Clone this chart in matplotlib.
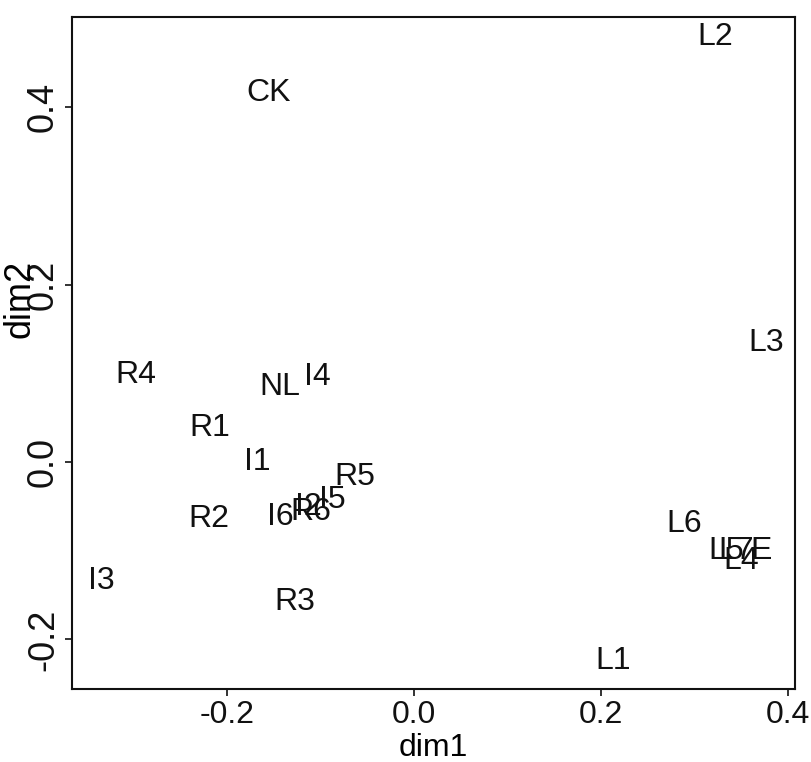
import matplotlib
matplotlib.use("Agg")
import matplotlib.pyplot as plt

# category labels and their coordinates
labels = ["CK", "L2", "R4", "NL", "I4", "L3", "R1", "I1", "R5", "I6",
          "I2", "R6", "I5", "R2", "L6", "L5", "L7", "L4", "E", "I3", "R3", "L1"]
dim1 = [-0.156, 0.322, -0.298, -0.144, -0.104, 0.377, -0.219, -0.168, -0.063, -0.143,
        -0.113, -0.110, -0.087, -0.220, 0.289, 0.334, 0.345, 0.350, 0.371, -0.335, -0.128, 0.213]
dim2 = [0.416, 0.479, 0.098, 0.085, 0.096, 0.134, 0.038, 0.000, -0.017, -0.062,
        -0.051, -0.056, -0.043, -0.064, -0.070, -0.100, -0.100, -0.112, -0.100, -0.134, -0.158, -0.224]

xticks = [-0.2, 0.0, 0.2, 0.4]
yticks = [-0.2, 0.0, 0.2, 0.4]

font = ["Liberation Sans", "DejaVu Sans"]
fs_h = 23   # horizontal text (scan is squeezed sideways)
fs_v = 26   # rotated text

fig = plt.figure(figsize=(8.11, 7.62), dpi=100)
ax = fig.add_axes([72 / 811, 1 - 689 / 762, 723 / 811, 672 / 762])

for lab, x, y in zip(labels, dim1, dim2):
    ax.text(x, y, lab, ha="center", va="center", fontsize=fs_h, family=font, color="#111111")

ax.set_xlim(-0.366, 0.4075)
ax.set_ylim(-0.256, 0.502)

ax.set_xticks(xticks)
ax.set_yticks(yticks)
ax.set_xticklabels(["%.1f" % t for t in xticks], family=font, fontsize=fs_h)
ax.set_yticklabels(["%.1f" % t for t in yticks], family=font, fontsize=fs_v,
                   rotation=90, va="center")
ax.tick_params(direction="out", length=5, width=1.2, pad=3, colors="#111111")

for s in ax.spines.values():
    s.set_linewidth(1.5)
    s.set_color("#111111")

ax.set_xlabel("dim1", family=font, fontsize=fs_h)
ax.xaxis.set_label_coords(0.5, -0.088)
ax.xaxis.label.set_va("center")
ax.set_ylabel("dim2", family=font, fontsize=fs_v)
ax.yaxis.set_label_coords(-0.072, 0.58)
ax.yaxis.label.set_va("center")

fig.savefig("out.png", dpi=100)
